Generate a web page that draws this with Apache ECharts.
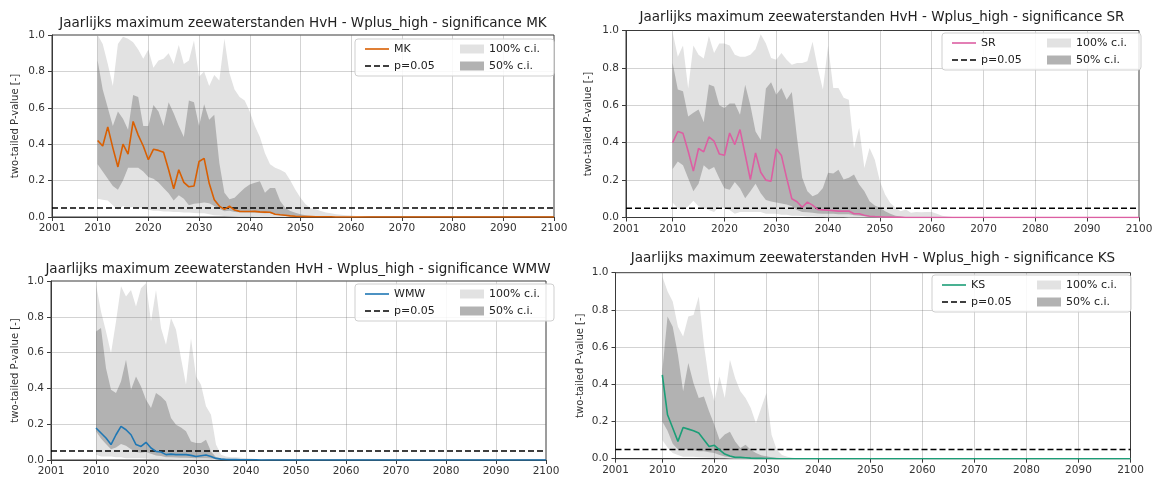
<!DOCTYPE html>
<html><head><meta charset="utf-8">
<script src="https://cdn.jsdelivr.net/npm/echarts@6/dist/echarts.min.js"></script>
<style>html,body{margin:0;padding:0;background:#fff}#c{width:1155px;height:477px}</style>
</head><body><div id="c"></div>
<script>
// ---------- data ----------
// years 2010..2065, then 2100 (all series are zero beyond 2065)
const years = [];
for (let y = 2010; y <= 2065; y++) years.push(y);
years.push(2100);

const xTickLabels = [2001, 2010, 2020, 2030, 2040, 2050, 2060, 2070, 2080, 2090, 2100];
const xGridLines = [2010, 2020, 2030, 2040, 2050, 2060, 2070, 2080, 2090];
const yGridLines = [0.2, 0.4, 0.6, 0.8];
const pLevel = 0.05;
const titleBase = 'Jaarlijks maximum zeewaterstanden HvH - Wplus_high - significance ';

// ---- MK ----
const MK_line = [
  0.42, 0.39, 0.495, 0.38, 0.275, 0.40, 0.345, 0.525, 0.45, 0.39,
  0.315, 0.372, 0.366, 0.356, 0.26, 0.155, 0.26, 0.19, 0.166, 0.17,
  0.305, 0.322, 0.185, 0.095, 0.06, 0.042, 0.06, 0.038, 0.031, 0.03,
  0.03, 0.031, 0.028, 0.027, 0.026, 0.015, 0.012, 0.01, 0.006, 0.004,
  0.003, 0.002, 0.002, 0.001, 0.001, 0.001, 0.001, 0, 0, 0,
  0, 0, 0, 0, 0, 0, 0];
const MK_ci50_hi = [
  0.86, 0.70, 0.60, 0.50, 0.58, 0.54, 0.48, 0.67, 0.66, 0.50,
  0.50, 0.615, 0.58, 0.50, 0.63, 0.57, 0.50, 0.44, 0.64, 0.63,
  0.50, 0.62, 0.535, 0.562, 0.297, 0.133, 0.097, 0.106, 0.133, 0.16,
  0.179, 0.188, 0.197, 0.133, 0.16, 0.16, 0.088, 0.05, 0.033, 0.024,
  0.015, 0.01, 0.005, 0.003, 0.002, 0.001, 0, 0, 0, 0,
  0, 0, 0, 0, 0, 0, 0];
const MK_ci50_lo = [
  0.29, 0.25, 0.21, 0.17, 0.15, 0.20, 0.27, 0.27, 0.27, 0.25,
  0.22, 0.21, 0.19, 0.16, 0.13, 0.09, 0.12, 0.10, 0.065, 0.073,
  0.075, 0.08, 0.075, 0.06, 0.045, 0.032, 0.035, 0.028, 0.026, 0.025,
  0.025, 0.024, 0.022, 0.02, 0.02, 0.012, 0.01, 0.006, 0.004, 0.003,
  0.002, 0.001, 0, 0, 0, 0, 0, 0, 0, 0,
  0, 0, 0, 0, 0, 0, 0];
const MK_ci100_hi = [
  1.0, 0.95, 0.84, 0.72, 0.95, 0.99, 0.98, 0.96, 0.92, 0.87,
  0.92, 0.82, 0.86, 0.87, 0.90, 0.84, 0.945, 0.84, 0.86, 0.97,
  0.77, 0.80, 0.72, 0.78, 0.75, 0.98, 0.79, 0.70, 0.66, 0.64,
  0.58, 0.50, 0.44, 0.35, 0.29, 0.27, 0.26, 0.245, 0.20, 0.15,
  0.106, 0.07, 0.05, 0.042, 0.033, 0.025, 0.02, 0.015, 0.012, 0.01,
  0.008, 0.006, 0.004, 0.002, 0, 0, 0];
const MK_ci100_lo = [
  0.10, 0.095, 0.09, 0.065, 0.04, 0.06, 0.05, 0.055, 0.05, 0.045,
  0.04, 0.035, 0.035, 0.03, 0.03, 0.028, 0.028, 0.025, 0.025, 0.022,
  0.02, 0.02, 0.015, 0.01, 0.008, 0.005, 0.004, 0.003, 0.002, 0.002,
  0.001, 0, 0, 0, 0, 0, 0, 0, 0, 0,
  0, 0, 0, 0, 0, 0, 0, 0, 0, 0,
  0, 0, 0, 0, 0, 0, 0];

// ---- SR ----
const SR_line = [
  0.40, 0.46, 0.45, 0.354, 0.248, 0.369, 0.351, 0.431, 0.408, 0.34,
  0.333, 0.452, 0.39, 0.47, 0.337, 0.203, 0.345, 0.242, 0.20, 0.194,
  0.367, 0.331, 0.212, 0.10, 0.084, 0.055, 0.082, 0.066, 0.043, 0.041,
  0.039, 0.037, 0.034, 0.034, 0.035, 0.02, 0.02, 0.012, 0.007, 0.005,
  0.004, 0.003, 0.002, 0.001, 0.001, 0, 0, 0, 0, 0,
  0, 0, 0, 0, 0, 0, 0];
const SR_ci50_hi = [
  0.826, 0.684, 0.675, 0.54, 0.56, 0.577, 0.51, 0.711, 0.70, 0.60,
  0.585, 0.61, 0.61, 0.55, 0.71, 0.60, 0.46, 0.415, 0.69, 0.723,
  0.657, 0.693, 0.63, 0.671, 0.426, 0.212, 0.141, 0.114, 0.126, 0.158,
  0.239, 0.235, 0.256, 0.203, 0.212, 0.23, 0.176, 0.141, 0.087, 0.064,
  0.052, 0.034, 0.02, 0.01, 0.005, 0.002, 0, 0, 0, 0,
  0, 0, 0, 0, 0, 0, 0];
const SR_ci50_lo = [
  0.26, 0.30, 0.28, 0.21, 0.14, 0.18, 0.28, 0.255, 0.27, 0.21,
  0.157, 0.148, 0.19, 0.157, 0.103, 0.14, 0.18, 0.13, 0.094, 0.085,
  0.08, 0.075, 0.07, 0.06, 0.04, 0.03, 0.028, 0.025, 0.022, 0.02,
  0.02, 0.02, 0.018, 0.018, 0.017, 0.012, 0.01, 0.007, 0.004, 0.003,
  0.002, 0.001, 0, 0, 0, 0, 0, 0, 0, 0,
  0, 0, 0, 0, 0, 0, 0];
const SR_ci100_hi = [
  0.99, 0.86, 0.92, 0.69, 0.92, 0.87, 0.85, 0.97, 0.88, 0.93,
  0.93, 0.92, 0.87, 0.86, 0.86, 0.87, 0.90, 0.98, 0.93, 0.853,
  0.844, 0.88, 0.844, 0.817, 0.826, 0.826, 0.835, 0.94, 0.80, 0.684,
  0.92, 0.693, 0.693, 0.64, 0.63, 0.37, 0.48, 0.265, 0.372, 0.31,
  0.194, 0.123, 0.078, 0.052, 0.034, 0.043, 0.025, 0.03, 0.028, 0.03,
  0.03, 0.02, 0.01, 0.005, 0.003, 0.002, 0];
const SR_ci100_lo = [
  0.08, 0.05, 0.04, 0.06, 0.09, 0.06, 0.05, 0.04, 0.03, 0.06,
  0.05, 0.04, 0.02, 0.03, 0.03, 0.03, 0.03, 0.03, 0.02, 0.02,
  0.02, 0.015, 0.015, 0.01, 0.01, 0.008, 0.006, 0.005, 0.004, 0.003,
  0.002, 0.002, 0.001, 0.001, 0, 0, 0, 0, 0, 0,
  0, 0, 0, 0, 0, 0, 0, 0, 0, 0,
  0, 0, 0, 0, 0, 0, 0];

// ---- WMW ----
const WMW_line = [
  0.179, 0.151, 0.123, 0.086, 0.141, 0.188, 0.169, 0.141, 0.086, 0.076,
  0.099, 0.067, 0.048, 0.045, 0.03, 0.033, 0.03, 0.03, 0.03, 0.026,
  0.02, 0.024, 0.028, 0.02, 0.009, 0.005, 0.003, 0.002, 0.002, 0.001,
  0.001, 0.001, 0.001, 0, 0, 0, 0, 0, 0, 0,
  0, 0, 0, 0, 0, 0, 0, 0, 0, 0,
  0, 0, 0, 0, 0, 0, 0];
const WMW_ci50_hi = [
  0.718, 0.737, 0.513, 0.393, 0.374, 0.439, 0.56, 0.393, 0.467, 0.411,
  0.337, 0.29, 0.374, 0.355, 0.327, 0.234, 0.197, 0.182, 0.16, 0.104,
  0.095, 0.095, 0.113, 0.048, 0.015, 0.01, 0.007, 0.005, 0.004, 0.003,
  0.002, 0.001, 0, 0, 0, 0, 0, 0, 0, 0,
  0, 0, 0, 0, 0, 0, 0, 0, 0, 0,
  0, 0, 0, 0, 0, 0, 0];
const WMW_ci50_lo = [
  0.16, 0.12, 0.09, 0.06, 0.07, 0.09, 0.08, 0.06, 0.045, 0.04,
  0.045, 0.035, 0.025, 0.022, 0.016, 0.016, 0.014, 0.013, 0.012, 0.011,
  0.01, 0.01, 0.01, 0.008, 0.004, 0.002, 0.001, 0, 0, 0,
  0, 0, 0, 0, 0, 0, 0, 0, 0, 0,
  0, 0, 0, 0, 0, 0, 0, 0, 0, 0,
  0, 0, 0, 0, 0, 0, 0];
const WMW_ci100_hi = [
  0.98, 0.83, 0.718, 0.597, 0.774, 0.97, 0.913, 0.95, 0.858, 0.96,
  0.988, 0.774, 0.95, 0.737, 0.644, 0.793, 0.727, 0.569, 0.42, 0.68,
  0.467, 0.42, 0.30, 0.253, 0.086, 0.03, 0.02, 0.015, 0.015, 0.012,
  0.01, 0.008, 0.006, 0.004, 0.002, 0, 0, 0, 0, 0,
  0, 0, 0, 0, 0, 0, 0, 0, 0, 0,
  0, 0, 0, 0, 0, 0, 0];
const WMW_ci100_lo = [
  0.03, 0.02, 0.02, 0.02, 0.015, 0.015, 0.01, 0.01, 0.01, 0.01,
  0.008, 0.006, 0.005, 0.004, 0.003, 0.003, 0.002, 0.002, 0.002, 0.002,
  0.001, 0.001, 0.001, 0.001, 0, 0, 0, 0, 0, 0,
  0, 0, 0, 0, 0, 0, 0, 0, 0, 0,
  0, 0, 0, 0, 0, 0, 0, 0, 0, 0,
  0, 0, 0, 0, 0, 0, 0];

// ---- KS ----
const KS_line = [
  0.451, 0.236, 0.165, 0.093, 0.168, 0.159, 0.15, 0.138, 0.102, 0.066,
  0.072, 0.048, 0.025, 0.014, 0.007, 0.007, 0.005, 0.003, 0.002, 0.002,
  0.001, 0.001, 0, 0, 0, 0, 0, 0, 0, 0,
  0, 0, 0, 0, 0, 0, 0, 0, 0, 0,
  0, 0, 0, 0, 0, 0, 0, 0, 0, 0,
  0, 0, 0, 0, 0, 0, 0];
const KS_ci50_hi = [
  0.47, 0.765, 0.71, 0.559, 0.362, 0.514, 0.406, 0.326, 0.335, 0.254,
  0.183, 0.102, 0.13, 0.145, 0.093, 0.057, 0.075, 0.048, 0.03, 0.018,
  0.013, 0.008, 0.005, 0.002, 0, 0, 0, 0, 0, 0,
  0, 0, 0, 0, 0, 0, 0, 0, 0, 0,
  0, 0, 0, 0, 0, 0, 0, 0, 0, 0,
  0, 0, 0, 0, 0, 0, 0];
const KS_ci50_lo = [
  0.20, 0.15, 0.08, 0.05, 0.05, 0.05, 0.045, 0.04, 0.04, 0.035,
  0.03, 0.02, 0.012, 0.008, 0.005, 0.004, 0.003, 0.002, 0.001, 0,
  0, 0, 0, 0, 0, 0, 0, 0, 0, 0,
  0, 0, 0, 0, 0, 0, 0, 0, 0, 0,
  0, 0, 0, 0, 0, 0, 0, 0, 0, 0,
  0, 0, 0, 0, 0, 0, 0];
const KS_ci100_hi = [
  0.98, 0.90, 0.845, 0.71, 0.657, 0.765, 0.773, 0.872, 0.612, 0.415,
  0.308, 0.442, 0.326, 0.532, 0.433, 0.362, 0.326, 0.272, 0.19, 0.272,
  0.353, 0.129, 0.048, 0.02, 0.01, 0.005, 0.002, 0, 0, 0,
  0, 0, 0, 0, 0, 0, 0, 0, 0, 0,
  0, 0, 0, 0, 0, 0, 0, 0, 0, 0,
  0, 0, 0, 0, 0, 0, 0];
const KS_ci100_lo = [
  0.10, 0.06, 0.03, 0.02, 0.01, 0.01, 0.01, 0.008, 0.006, 0.005,
  0.004, 0.003, 0.002, 0.001, 0, 0, 0, 0, 0, 0,
  0, 0, 0, 0, 0, 0, 0, 0, 0, 0,
  0, 0, 0, 0, 0, 0, 0, 0, 0, 0,
  0, 0, 0, 0, 0, 0, 0, 0, 0, 0,
  0, 0, 0, 0, 0, 0, 0];

// ---------- layout / style ----------
const FONT = 'DejaVu Sans';
const LIGHT = '#e2e2e2';
const DARK = '#b2b2b2';
const FRAME = '#3a3a3a';
const GRIDC = 'rgba(110,110,110,0.3)';

const panels = [
  { key: 'MK', color: '#d95f02', line: MK_line, hi50: MK_ci50_hi, lo50: MK_ci50_lo, hi100: MK_ci100_hi, lo100: MK_ci100_lo,
    grid: { left: 52, top: 35, width: 502, height: 182 }, title: [303, 23], legend: [355, 39], nameGap: 32 },
  { key: 'SR', color: '#dc5fa2', line: SR_line, hi50: SR_ci50_hi, lo50: SR_ci50_lo, hi100: SR_ci100_hi, lo100: SR_ci100_lo,
    grid: { left: 626, top: 30.5, width: 513, height: 187 }, title: [882, 17], legend: [942, 33], nameGap: 33 },
  { key: 'WMW', color: '#1f77b4', line: WMW_line, hi50: WMW_ci50_hi, lo50: WMW_ci50_lo, hi100: WMW_ci100_hi, lo100: WMW_ci100_lo,
    grid: { left: 51, top: 281, width: 495, height: 179 }, title: [298, 269], legend: [355, 284], nameGap: 31 },
  { key: 'KS', color: '#1b9e77', line: KS_line, hi50: KS_ci50_hi, lo50: KS_ci50_lo, hi100: KS_ci100_hi, lo100: KS_ci100_lo,
    grid: { left: 615.5, top: 272.7, width: 515, height: 186 }, title: [873, 258], legend: [932, 275], nameGap: 30 }
];

const ICON_SOLID = 'path://M0,0H24V1.6H0Z';
const ICON_DASH = 'path://M0,0H6V1.6H0Z M9,0H15V1.6H9Z M18,0H24V1.6H18Z';

const option = {
  animation: false,
  backgroundColor: '#fff',
  grid: [], xAxis: [], yAxis: [], series: [], legend: [], graphic: []
};

// band drawn as one polygon through the axis scales
function bandSeries(name, i, lo, hi, color, z) {
  return {
    type: 'custom', name: name, xAxisIndex: i, yAxisIndex: i, silent: true, z: z,
    data: years.map((y, k) => [y, lo[k], hi[k]]),
    encode: { x: 0, y: [1, 2] },
    itemStyle: { color: color },
    renderItem: function (params, api) {
      if (params.dataIndex !== 0) return null;
      const upper = years.map((y, k) => api.coord([y, hi[k]]));
      const lower = years.map((y, k) => api.coord([y, lo[k]])).reverse();
      return { type: 'polygon', shape: { points: upper.concat(lower) }, style: { fill: color } };
    }
  };
}

panels.forEach((p, i) => {
  option.grid.push(Object.assign({
    show: true, borderColor: FRAME, borderWidth: 1, backgroundColor: 'transparent',
    containLabel: false, outerBoundsMode: 'none'
  }, p.grid));

  option.xAxis.push({
    type: 'value', gridIndex: i, min: xTickLabels[0], max: xTickLabels[xTickLabels.length - 1],
    splitLine: { show: false },
    axisLine: { show: true, onZero: false, lineStyle: { color: FRAME } },
    axisTick: { show: true, length: 4, customValues: xTickLabels, lineStyle: { color: FRAME } },
    axisLabel: { customValues: xTickLabels, fontSize: 10.5, fontFamily: FONT, color: '#333', margin: 6,
      formatter: v => String(v) }
  });

  option.yAxis.push({
    type: 'value', gridIndex: i, min: 0, max: 1, interval: 0.2,
    splitLine: { show: false },
    axisLine: { show: true, lineStyle: { color: FRAME } },
    axisTick: { show: true, length: 4, lineStyle: { color: FRAME } },
    axisLabel: { fontSize: 10.5, fontFamily: FONT, color: '#333', margin: 7, formatter: v => v.toFixed(1) },
    name: 'two-tailed P-value [-]', nameLocation: 'middle', nameGap: p.nameGap,
    nameTextStyle: { fontSize: 10, fontFamily: FONT, color: '#333' }
  });

  const pair = arr => years.map((y, k) => [y, arr[k]]);
  const common = { type: 'line', xAxisIndex: i, yAxisIndex: i, symbol: 'none', silent: true };

  option.series.push(bandSeries('100% c.i.', i, p.lo100, p.hi100, LIGHT, 1));
  option.series.push(bandSeries('50% c.i.', i, p.lo50, p.hi50, DARK, 1.5));

  option.series.push(Object.assign({}, common, {
    name: 'p=0.05', data: [[xTickLabels[0], pLevel], [xTickLabels[xTickLabels.length - 1], pLevel]],
    lineStyle: { color: '#000', width: 1.5, type: [6, 3] }, itemStyle: { color: '#000' }, z: 4,
    markLine: {
      silent: true, symbol: ['none', 'none'], z: 3, animation: false,
      label: { show: false },
      lineStyle: { color: GRIDC, width: 1, type: 'solid' },
      emphasis: { disabled: true },
      data: xGridLines.map(v => ({ xAxis: v })).concat(yGridLines.map(v => ({ yAxis: v })))
    }
  }));
  option.series.push(Object.assign({}, common, {
    name: p.key, data: pair(p.line),
    lineStyle: { color: p.color, width: 1.6 }, itemStyle: { color: p.color }, z: 5
  }));

  option.legend.push({
    orient: 'vertical', left: p.legend[0], top: p.legend[1], height: 32,
    itemWidth: 24, itemHeight: 9, itemGap: 3, padding: [3, 2, 3, 10],
    backgroundColor: 'rgba(255,255,255,0.85)', borderColor: '#cfcfcf', borderWidth: 1, borderRadius: 3,
    selectedMode: false, z: 6,
    textStyle: { fontSize: 11, fontFamily: FONT, color: '#222', width: 63, lineHeight: 14 },
    data: [
      { name: p.key, icon: ICON_SOLID, itemStyle: { color: p.color } },
      { name: 'p=0.05', icon: ICON_DASH, itemStyle: { color: '#000' } },
      { name: '100% c.i.', icon: 'rect', itemStyle: { color: LIGHT } },
      { name: '50% c.i.', icon: 'rect', itemStyle: { color: DARK } }
    ]
  });

  option.graphic.push({
    type: 'text', x: p.title[0], y: p.title[1], silent: true,
    style: { text: titleBase + p.key, textAlign: 'center', textVerticalAlign: 'middle',
      font: '13.5px "' + FONT + '"', fill: '#222' }
  });
});

const chart = echarts.init(document.getElementById('c'), null, { renderer: 'canvas' });
chart.setOption(option);
</script>
</body></html>
